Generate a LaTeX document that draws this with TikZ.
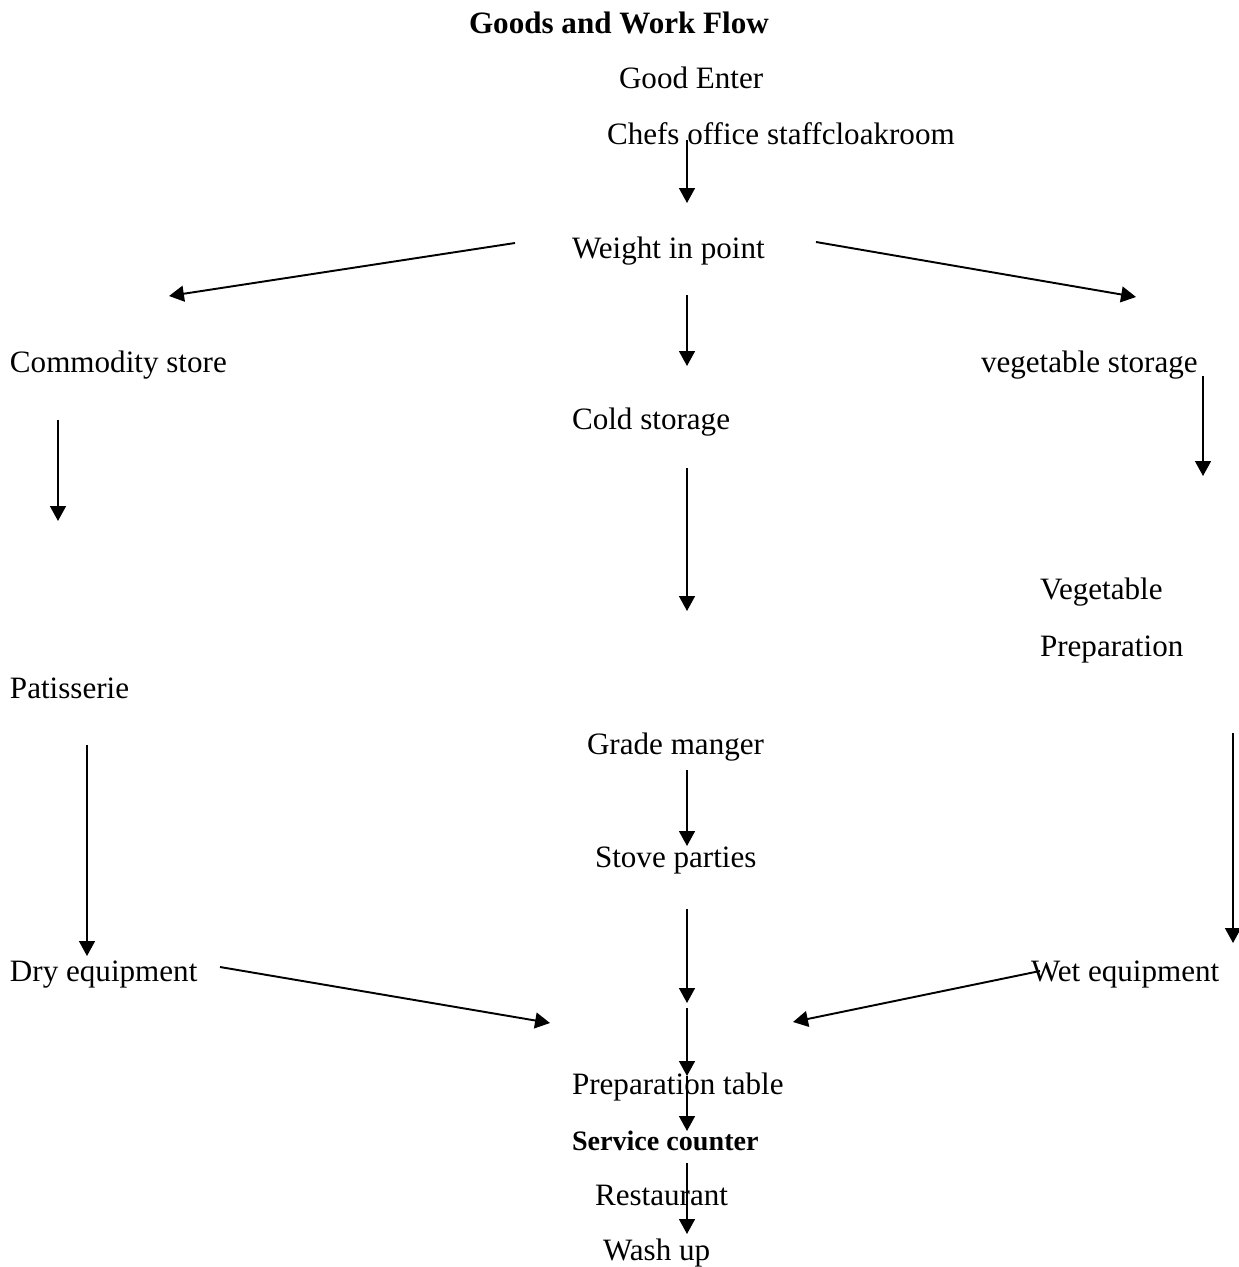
\documentclass[tikz,border=0pt]{standalone}
\usepackage{fontspec}
\setmainfont{Liberation Serif}
\usetikzlibrary{arrows.meta}
\begin{document}
\begin{tikzpicture}[x=0.02cm,y=-0.02cm,
  lbl/.style={anchor=base west,inner sep=0pt,outer sep=0pt,font=\fontsize{17.7}{21}\selectfont},
  blbl/.style={lbl,font=\fontsize{17.7}{21}\selectfont\bfseries},
  sblbl/.style={lbl,font=\fontsize{16}{19}\selectfont\bfseries},
  flow/.style={line width=1.1pt,-{Triangle[length=8.5pt,width=9pt]}}]
\useasboundingbox (0,0) rectangle (1239,1267);
% texts
\node[blbl] (title) at (469,34) {Goods and Work Flow};
\node[lbl] (enter) at (619,89) {Good Enter};
\node[lbl] (chefs) at (607,145) {Chefs office staffcloakroom};
\node[lbl] (weight) at (572,258) {Weight in point};
\node[lbl] (commodity) at (10,372) {Commodity store};
\node[lbl] (vegstore) at (981,372) {vegetable storage};
\node[lbl] (cold) at (572,429) {Cold storage};
\node[lbl] (veg1) at (1040,599) {Vegetable};
\node[lbl] (veg2) at (1040,656) {Preparation};
\node[lbl] (patis) at (10,698) {Patisserie};
\node[lbl] (grade) at (587,754) {Grade manger};
\node[lbl] (stove) at (595,867) {Stove parties};
\node[lbl] (dry) at (10,981) {Dry equipment};
\node[lbl] (wet) at (1031,981) {Wet equipment};
\node[lbl] (prept) at (572,1094) {Preparation table};
\node[sblbl] (service) at (572,1150) {Service counter};
\node[lbl] (rest) at (595,1205) {Restaurant};
\node[lbl] (wash) at (603,1260) {Wash up};
% arrow end points
\coordinate (a1s) at (687,140); \coordinate (a1e) at (687,203);
\coordinate (a2s) at (515,243); \coordinate (a2e) at (169,296);
\coordinate (a3s) at (816,242); \coordinate (a3e) at (1136,297);
\coordinate (a4s) at (687,295); \coordinate (a4e) at (687,366);
\coordinate (a5s) at (58,420); \coordinate (a5e) at (58,521);
\coordinate (a6s) at (1203,376); \coordinate (a6e) at (1203,476);
\coordinate (a7s) at (687,468); \coordinate (a7e) at (687,611);
\coordinate (a8s) at (87,745); \coordinate (a8e) at (87,956);
\coordinate (a9s) at (687,770); \coordinate (a9e) at (687,846);
\coordinate (a10s) at (1233,733); \coordinate (a10e) at (1233,943);
\coordinate (a11s) at (220,967); \coordinate (a11e) at (550,1023);
\coordinate (a12s) at (1040,971); \coordinate (a12e) at (793,1022);
\coordinate (a13s) at (687,909); \coordinate (a13e) at (687,1003);
\coordinate (a14s) at (687,1008); \coordinate (a14e) at (687,1076);
\coordinate (a15s) at (687,1076); \coordinate (a15e) at (687,1131);
\coordinate (a16s) at (687,1163); \coordinate (a16e) at (687,1234);
\foreach \i in {1,...,16} \draw[flow] (a\i s) -- (a\i e);
\end{tikzpicture}
\end{document}
